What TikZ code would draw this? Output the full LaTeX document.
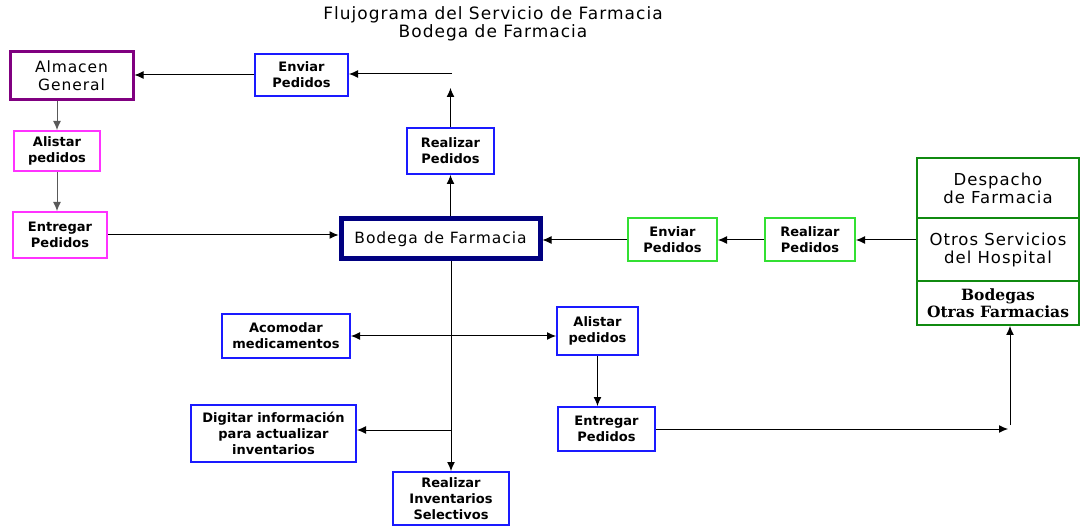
\documentclass[tikz,border=0pt]{standalone}
\usepackage{fontspec}
\setmainfont{DejaVu Sans}
\newfontfamily\ancha{DejaVu Sans}[LetterSpace=6]
\newfontfamily\serifn{DejaVu Serif}
\usetikzlibrary{arrows.meta}
\definecolor{morado}{HTML}{800080}
\definecolor{azulc}{HTML}{1A1AFF}
\definecolor{rosa}{HTML}{FF33FF}
\definecolor{verdec}{HTML}{33E033}
\definecolor{verdeo}{HTML}{108A10}
\definecolor{marino}{HTML}{000080}

\begin{document}
\begin{tikzpicture}[
      x = 1pt, y = -1pt, % coordinates in pixels, y goes down
      punta/.tip = {Latex[length=9pt,width=8pt]},
      flecha/.style = {-punta, line width=1pt},
      caja/.style = {draw, line width=2pt, align=center, inner sep=0pt,
                     font=\fontsize{13}{16}\selectfont\bfseries},
      azul/.style = {caja, draw=azulc},
      rosado/.style = {caja, draw=rosa},
      verde/.style = {caja, draw=verdec},
      grande/.style = {caja, font=\ancha\fontsize{15.5}{18}\selectfont},
      hospital/.style = {draw=verdeo, line width=2pt, align=center, inner sep=0pt,
                         minimum width=162, font=\ancha\fontsize{16.5}{18}\selectfont}
  ]

\useasboundingbox (0,0) rectangle (1081,526);

% title
\node[align=center, font=\ancha\fontsize{17}{16}\selectfont] (titulo) at (493,24)
    {Flujograma del Servicio de Farmacia\\Bodega de Farmacia};

% upper part
\node[grande, draw=morado, line width=3pt, minimum width=123, minimum height=48] (almacen) at (71.5,76) {Almacen\\General};
\node[azul, minimum width=93, minimum height=42] (envA) at (301.5,75) {Enviar\\Pedidos};
\node[azul, minimum width=87, minimum height=46] (realA) at (450.5,151) {Realizar\\Pedidos};
\node[rosado, minimum width=86, minimum height=40] (alisA) at (57,151) {Alistar\\pedidos};
\node[rosado, minimum width=94, minimum height=46] (entA) at (60,235) {Entregar\\Pedidos};
\node[grande, draw=marino, line width=5pt, minimum width=199, minimum height=40] (bodega) at (440.5,239) {Bodega de Farmacia};

% right part
\node[verde, minimum width=89, minimum height=43] (envB) at (672.5,240) {Enviar\\Pedidos};
\node[verde, minimum width=90, minimum height=43] (realB) at (810,240) {Realizar\\Pedidos};
\node[hospital, minimum height=60] (despacho) at (998,188) {Despacho\\de Farmacia};
\node[hospital, minimum height=63] (otros) at (998,249.5) {Otros Servicios\\del Hospital};
\node[hospital, minimum height=44, font=\serifn\bfseries\fontsize{15.5}{17}\selectfont] (bodegas) at (998,303) {Bodegas\\Otras Farmacias};

% lower part
\node[azul, minimum width=128, minimum height=44] (acom) at (286,336) {Acomodar\\medicamentos};
\node[azul, minimum width=81, minimum height=48] (alisB) at (597.5,331) {Alistar\\pedidos};
\node[azul, minimum width=97, minimum height=44] (entB) at (606.5,429) {Entregar\\Pedidos};
\node[azul, minimum width=165, minimum height=57] (digit) at (273.5,433.5) {Digitar información\\para actualizar\\inventarios};
\node[azul, minimum width=116, minimum height=53] (invent) at (451,498.5) {Realizar\\Inventarios\\Selectivos};

\coordinate (tope) at (451,88);
\coordinate (esq) at (452,74);
\coordinate (rama) at (451,430);
\coordinate (giro) at (1008,429);
\coordinate (sube) at (1010,425);

\draw[flecha] (realA.south |- bodega.north) -- (realA.south);
\draw[flecha] (realA.north) -- (realA.north |- tope);
\draw[flecha] (esq) -- (esq -| envA.east);
\draw[flecha] (envA.west) -- (envA.west -| almacen.east);
\draw[flecha, gray!70!black] (almacen.south -| alisA) -- (alisA.north);
\draw[flecha, gray!70!black] (alisA.south) -- (alisA.south |- entA.north);
\draw[flecha] (entA.east) -- (entA.east -| bodega.west);
\draw[flecha] (otros.west |- realB) -- (realB.east);
\draw[flecha] (realB.west) -- (envB.east);
\draw[flecha] (envB.west) -- (envB.west -| bodega.east);
\draw[flecha] (bodega.south -| invent) -- (invent.north);
\draw[flecha, punta-punta] (acom.east) -- (acom.east -| alisB.west);
\draw[flecha] (rama) -- (rama -| digit.east);
\draw[flecha] (alisB.south) -- (alisB.south |- entB.north);
\draw[flecha] (entB.east) -- (giro);
\draw[flecha] (sube) -- (sube |- bodegas.south);

\end{tikzpicture}
\end{document}
